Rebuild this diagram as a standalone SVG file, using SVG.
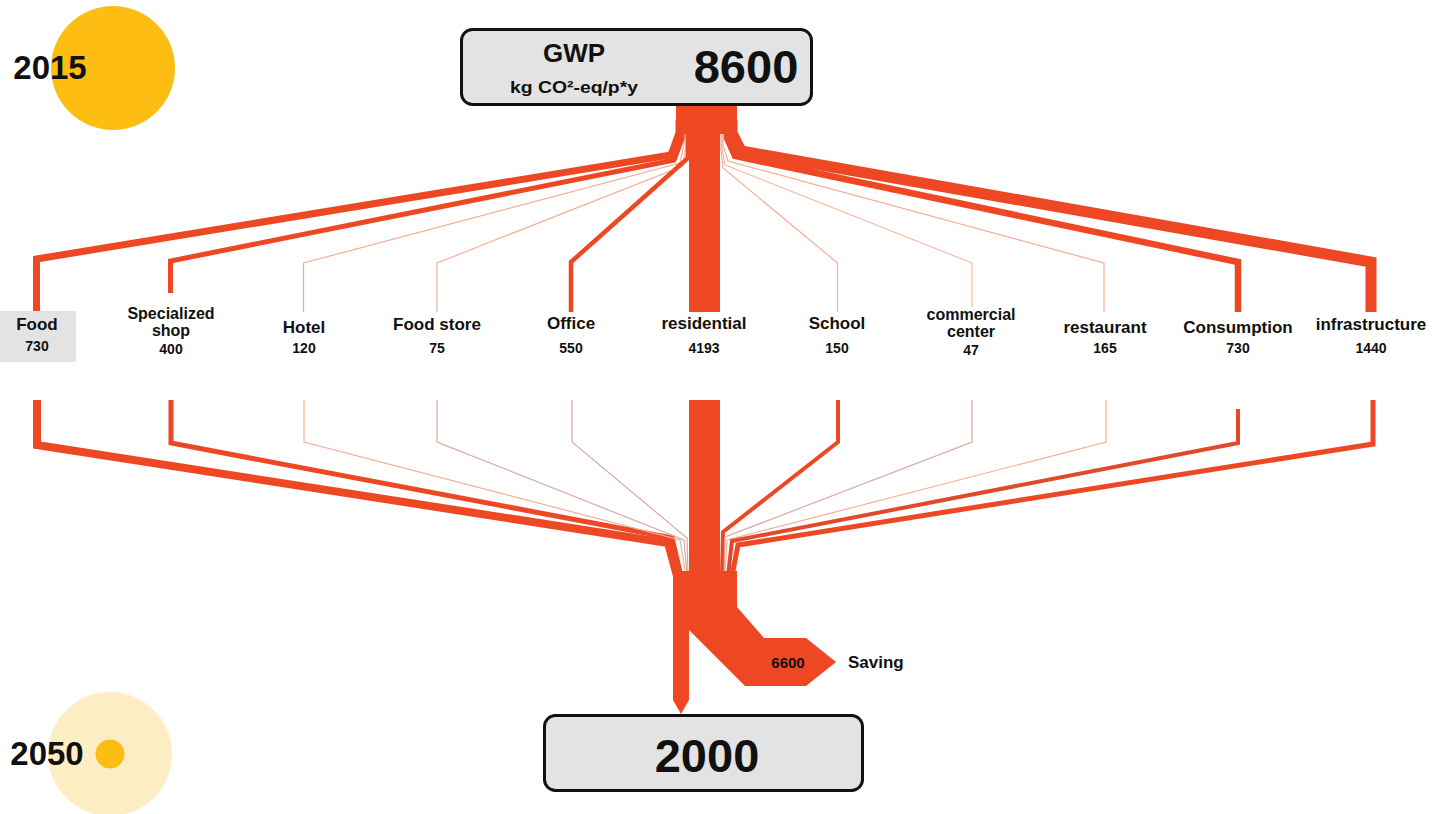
<svg xmlns="http://www.w3.org/2000/svg" width="1437" height="814" viewBox="0 0 1437 814">
<style>
text{font-family:"Liberation Sans",Arial,sans-serif;font-weight:bold;fill:#111;text-anchor:middle}
.nm{font-size:17px}
.nm2{font-size:16px}
.val{font-size:14px}
.flow{fill:none;stroke:#EE4723;stroke-linejoin:miter;stroke-miterlimit:10}
.lt{stroke:#F6AE99}
.lg{stroke:#D9AA9E}
.red{fill:#EE4723}
.box{fill:#E3E3E3;stroke:#111;stroke-width:3}
</style>
<rect width="1437" height="814" fill="#fff"/>
<g id="year2015">
<circle cx="113" cy="68" r="62" fill="#FDBD12"/>
<text x="50" y="79" style="font-size:33px">2015</text>
</g>
<g id="year2050">
<circle cx="110" cy="754" r="62" fill="#FDEDC2"/>
<circle cx="110" cy="754" r="14.5" fill="#FDBD12"/>
<text x="47" y="765" style="font-size:33px">2050</text>
</g>
<g id="connectors">
<!-- upper fan (2015) -->
<polyline class="flow" stroke-width="7" points="679,120 679,133 671,155 36.5,259 36.5,312"/>
<polyline class="flow" stroke-width="5" points="683,120 683,136 674,160 170.5,261 170.5,293"/>
<polyline class="flow lt" stroke-width="1.2" points="685,120 685,140 680,163 303.5,263 303.5,312"/>
<polyline class="flow lt" stroke-width="1.2" points="686.5,120 686.5,142 683,166 437,263 437,312"/>
<polyline class="flow" stroke-width="4.5" points="688,120 688,158 571,262 571,312"/>
<polyline class="flow lt" stroke-width="1.2" points="721,120 721,150 723,168 837.5,263 837.5,312"/>
<polyline class="flow lt" stroke-width="1" points="722,120 722,148 725,165 972,263 972,307"/>
<polyline class="flow lt" stroke-width="1.2" points="723,120 723,145 728,161 1104,263 1104,312"/>
<polyline class="flow" stroke-width="6.5" points="727,120 727,138 735,156 1238,262 1238,312"/>
<polyline class="flow" stroke-width="11" points="732,120 732,133 741,151 1371,262 1371,312"/>
<rect class="red" x="676" y="104" width="61" height="30"/>
<rect class="red" x="689" y="104" width="31" height="208"/>
<!-- lower fan (2050) -->
<polyline class="flow" stroke-width="8" points="37,400 37,445 668,543 677,576"/>
<polyline class="flow" stroke-width="5" points="171,400 171,443 672,538 681,576"/>
<polyline class="flow lt" stroke-width="1.2" points="304,400 304,442 680,540 686,576"/>
<polyline class="flow lg" stroke-width="1.2" points="437,400 437,442 684,540 687,576"/>
<polyline class="flow lg" stroke-width="1.2" points="572,400 572,442 687,538 688,576"/>
<polyline class="flow" stroke-width="4" points="838,400 838,442 723,532 722,576"/>
<polyline class="flow lg" stroke-width="1.2" points="972,400 972,442 725,537 724,576"/>
<polyline class="flow lt" stroke-width="1.2" points="1106,400 1106,442 727,540 725,576"/>
<polyline class="flow" stroke-width="4" points="1238,409 1238,443 732,541 728,576" style="stroke:#E04A2A"/>
<polyline class="flow" stroke-width="5" points="1373,400 1373,444 738,545 732,576"/>
<rect class="red" x="689" y="400" width="31" height="175"/>
<polygon class="red" points="673,571 737,571 737,607 764,638 806,638 836,662 806,686 745,686 689,630 689,700 681,714 673,700"/>
</g>
<g id="gwp">
<rect class="box" x="461.5" y="29.5" width="350" height="75" rx="11"/>
<text x="574" y="62" style="font-size:26px">GWP</text>
<text x="574" y="93" style="font-size:16px" textLength="128" lengthAdjust="spacingAndGlyphs">kg CO²-eq/p*y</text>
<text x="746" y="83" style="font-size:47px">8600</text>
</g>
<g id="n-food">
<rect x="0" y="311" width="76" height="51" fill="#E3E3E3"/>
<text class="nm" x="37" y="330">Food</text>
<text class="val" x="37" y="351">730</text>
</g>
<g id="n-specialized">
<text class="nm2" x="171" y="319">Specialized</text>
<text class="nm2" x="171" y="336">shop</text>
<text class="val" x="171" y="354">400</text>
</g>
<g id="n-hotel">
<text class="nm" x="304" y="333">Hotel</text>
<text class="val" x="304" y="353">120</text>
</g>
<g id="n-foodstore">
<text class="nm" x="437" y="330">Food store</text>
<text class="val" x="437" y="353">75</text>
</g>
<g id="n-office">
<text class="nm" x="571" y="329">Office</text>
<text class="val" x="571" y="353">550</text>
</g>
<g id="n-residential">
<text class="nm" x="704" y="329">residential</text>
<text class="val" x="704" y="353">4193</text>
</g>
<g id="n-school">
<text class="nm" x="837" y="329">School</text>
<text class="val" x="837" y="353">150</text>
</g>
<g id="n-commercial">
<text class="nm2" x="971" y="320">commercial</text>
<text class="nm2" x="971" y="337">center</text>
<text class="val" x="971" y="355">47</text>
</g>
<g id="n-restaurant">
<text class="nm" x="1105" y="333">restaurant</text>
<text class="val" x="1105" y="353">165</text>
</g>
<g id="n-consumption">
<text class="nm" x="1238" y="333">Consumption</text>
<text class="val" x="1238" y="353">730</text>
</g>
<g id="n-infrastructure">
<text class="nm" x="1371" y="330">infrastructure</text>
<text class="val" x="1371" y="353">1440</text>
</g>
<g id="saving">
<text x="788" y="668" style="font-size:15px">6600</text>
<text x="848" y="668" style="font-size:17px;text-anchor:start">Saving</text>
</g>
<g id="result2050">
<rect class="box" x="544.5" y="715.5" width="318" height="75" rx="11"/>
<text x="707" y="772" style="font-size:47px">2000</text>
</g>
</svg>
